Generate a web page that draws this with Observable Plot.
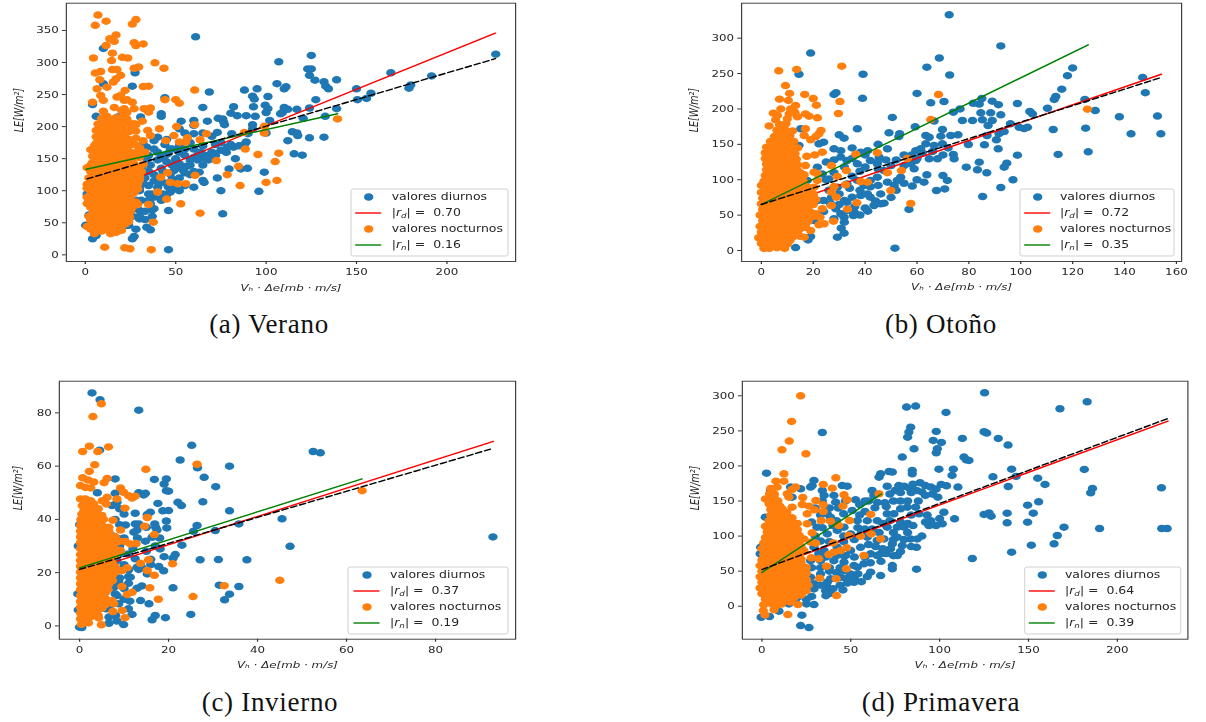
<!DOCTYPE html>
<html lang="es">
<head>
<meta charset="utf-8">
<script src="https://cdn.jsdelivr.net/npm/d3@7"></script>
<script src="https://cdn.jsdelivr.net/npm/@observablehq/plot@0.6"></script>
<style>
html,body{margin:0;padding:0;background:#fff;width:1206px;height:722px;overflow:hidden}
.panel{position:absolute;transform-origin:0 0;transform:scaleX(1.25);filter:blur(.45px)}
.panel svg{display:block;max-width:none;overflow:visible}
.cap{position:absolute;font-family:"Liberation Serif",serif;font-size:27px;letter-spacing:.7px;color:#111;transform:translateX(-50%);white-space:nowrap;line-height:30px}
</style>
</head>
<body>
<script>
const veranoDiurnos = [[61,340],[10,322],[125,311],[227,313],[107,301],[125,290],[123,290],[124,280],[169,284],[191.5,279],[27.5,284],[139,273],[127,272.5],[132,270],[106,267],[26,263],[133,263],[134.5,259],[111,262],[110,259],[95,259],[88,257],[68.6,254],[150,259],[180,265],[179,260],[158,252],[155.5,244],[150.5,242],[44,245],[92.5,247.5],[93.5,243],[101,247],[127.5,242],[65,230],[82,231],[93,231],[99.5,233.5],[101,228],[100,222],[110,230],[109,222],[108,220],[112,227],[117,227],[124,229],[139,228],[80.5,221],[84,217],[94,216],[89,217],[42,220],[42,216],[30.6,215],[53,208.5],[60,209.5],[60,202],[67.5,208.5],[73.5,213],[76,212],[76.5,207],[77,203],[102,209.5],[120.5,213],[132.7,216],[52,196.5],[60,189],[73,191],[81,189],[92.5,203],[92.5,196.5],[90,189],[100,190],[114.5,192],[117,190],[117.5,186],[124,182.5],[132,183.5],[112,178],[89,176],[88,172],[80.5,172],[82,168],[78.5,168],[115.5,157.5],[120,155.5],[83,150],[75,163],[71,157.5],[67.5,155],[65.5,151],[60,152],[62,155],[79.5,134],[86,134],[89.7,135],[73,120],[99,129],[63,129],[65,116],[65.7,113],[60,105.5],[75,100],[96,99],[76,64],[46,69],[46,8],[36,39],[34,43],[27,28.6],[26,25],[4,25],[6,30],[30,56],[30,69],[24,46],[23,46],[37,70],[47,98],[46,105.5],[49,103],[42,87],[38,90],[51,137],[49,131.5],[52,142],[48,165],[45.5,157.5],[42,152],[40,183.5],[34,168],[32,173],[0.2,46],[4,234.5],[6,216],[10,267],[18,215],[1,95],[2,62],[26,60],[28,72],[33,68],[38,72],[31,85],[36,80],[42,85],[45,94],[37,95],[40,105],[44,112],[48,118],[35,108],[33,120],[38,125],[43,130],[47,126],[52,120],[54,132],[56,138],[50,148],[58,148],[62,148],[36,140],[40,148],[45,145],[35,155],[40,160],[52,160],[44,172],[38,178],[55,165],[60,165],[65,170],[70,160],[72,172],[55,108],[52,100],[43,95],[30,100],[35,95],[38,115],[41,112],[55,128],[58,125],[60,130],[65,140],[68,148],[72,155],[78,160],[85,170],[70,150],[58,140],[48,140],[55,155],[45,180],[52,170],[58,175],[47,165],[64,160],[75,175],[70,185],[65,190],[55,190],[50,150],[42,135],[35,130],[32,130],[30,60],[33,55],[35,85],[37,60],[28,40],[28,85],[30,105],[32,112],[32,140],[34,150],[38,165],[44,155]];
const veranoNocturnos = [[7,374],[28,367],[26,360],[5.5,358],[11.5,364.5],[17,343],[13.5,337],[16,333],[11.5,326.5],[27,331],[28,326.5],[32,329],[15,314.5],[4.5,307],[14.5,303],[20.5,308],[23.5,307],[38.5,299.5],[43.5,291],[27,291],[29.5,293],[15,289],[17.5,289],[5.5,283.5],[8.5,286],[19.5,280],[17,274.5],[15.5,269.5],[8,273],[32,262.5],[35,263],[6.5,259],[12,261.5],[8.5,248.5],[22,256.5],[19.5,248.5],[17.5,246],[60.5,257],[4,238],[10,241],[26,238],[23,242],[21.5,241],[50,242],[52,236.5],[44,242],[16,230],[21.5,228],[27,228],[32.5,228],[36,229],[35,222.5],[31.5,208.5],[27,204.5],[23.5,207],[41,196.5],[50.5,200],[60.5,203],[34.5,194],[36,186],[49,186],[44.5,178],[56.5,182.5],[63.5,179.5],[67,189],[52,176],[55.5,176],[88,191],[99,190],[99,200.5],[88.5,165],[95.5,156.5],[107,158.5],[105,145.5],[72.5,147],[84.7,138],[78.5,125],[60.7,124],[45.5,128],[41.7,121],[100,113],[106,116],[85.6,108],[47,113],[51,111],[55.5,111],[40,98],[45,87],[52.8,79.5],[63.5,65],[35,78.5],[29,78.5],[37.6,51],[24.5,59],[10.7,12],[21.8,11],[24.7,9.5],[36.5,8],[139.5,212],[5,33],[9,37],[14,33],[17,35],[20,38],[1,44],[4,46],[7,44],[11,45],[15,46],[19,45],[22,48],[3,54],[6,56],[10,55],[14,54],[18,56],[21,57],[24,52],[4,64],[8,66],[12,65],[16,64],[20,66],[23,68],[3,74],[7,76],[11,74],[15,76],[19,75],[23,77],[26,74],[2,85],[6,84],[10,86],[14,85],[18,84],[22,86],[25,85],[3,94],[7,96],[11,95],[15,94],[19,96],[23,95],[27,97],[1,104],[5,106],[9,104],[13,105],[17,106],[21,104],[25,105],[29,103],[3,114],[7,115],[11,116],[15,114],[19,115],[23,116],[27,114],[30,117],[4,124],[8,126],[12,125],[16,124],[20,126],[24,125],[28,127],[1,136],[5,134],[9,136],[13,135],[17,134],[21,136],[25,135],[29,137],[4,144],[8,146],[12,145],[16,144],[20,146],[24,145],[4,154],[7,156],[11,155],[15,154],[19,156],[23,155],[27,157],[3,164],[7,164],[11,166],[15,165],[19,164],[23,165],[30,167],[6,174],[10,176],[14,175],[18,174],[22,176],[26,175],[6,184],[10,186],[14,185],[18,184],[22,183],[28,182],[6,194],[9,196],[13,195],[17,194],[21,190],[7,204],[11,206],[15,205],[19,204],[24,205],[28,203],[9,213],[12,216],[17,214],[21,216],[10,224],[20,225],[23,222],[3,40],[8,40],[12,40],[16,42],[6,50],[10,50],[14,50],[18,50],[22,53],[2,60],[6,61],[10,60],[14,59],[18,61],[22,62],[5,70],[9,71],[13,70],[17,69],[21,71],[25,68],[1,80],[5,80],[9,81],[13,80],[17,79],[21,81],[25,80],[28,82],[1,90],[5,90],[9,91],[13,90],[17,89],[21,91],[25,90],[3,100],[7,100],[11,100],[15,101],[19,100],[23,100],[27,101],[1,110],[5,110],[9,110],[13,111],[17,110],[21,110],[25,110],[29,111],[2,120],[6,120],[10,120],[14,120],[18,120],[22,120],[26,121],[30,122],[3,130],[7,130],[11,130],[15,130],[19,130],[23,130],[27,131],[31,130],[3,140],[7,140],[11,141],[15,140],[19,140],[23,140],[27,142],[32,141],[6,150],[10,150],[14,150],[18,150],[22,150],[26,150],[30,152],[5,160],[9,160],[13,160],[17,160],[21,160],[25,160],[29,161],[33,160],[5,170],[9,170],[12,170],[16,170],[20,170],[24,170],[28,171],[8,180],[12,180],[16,180],[20,180],[24,180],[32,178],[8,190],[11,190],[15,190],[19,190],[24,192],[28,193],[9,200],[13,200],[17,200],[21,200],[26,198],[11,210],[15,210],[19,210],[23,212]];
const otonoDiurnos = [[72.4,333],[92.3,289],[19,279],[68.6,272],[120,258],[63.8,259],[72.6,248],[14.5,249],[39.2,249],[118,247],[147,244.5],[115.8,228],[148,223],[60,222],[28,220.5],[28.8,223],[113.5,217.6],[112.9,213.4],[39,215],[85,214.8],[81.7,208],[84,207],[70.4,210.5],[65.3,208.7],[89,211],[91.4,206],[98.7,207.7],[124.7,213.4],[76.6,200],[74,195.5],[84.6,194.5],[88.4,194.5],[92.3,191.7],[103.5,196.4],[104.5,193],[110.3,201],[128.7,197.8],[50.5,188],[138,189],[152.7,190],[77.5,183.7],[81.4,183.7],[85.2,184.6],[89,183.7],[66.6,182.8],[59.3,174.8],[37,172],[69.8,171],[87.4,176.6],[96,179],[99.4,174],[102.6,174],[101.3,172.4],[112.5,171],[125,172.9],[142.5,164.9],[154,164.9],[49.2,166.3],[53.3,165],[53,161],[30,163.4],[31.9,158.7],[63.4,162.5],[64.7,160],[69.2,161.6],[73,162.5],[75.8,163.4],[87,162.5],[91.6,165],[93.6,168],[90.6,156.4],[79.8,149.8],[86,149.3],[91.3,143.7],[74,135.7],[74.3,129.5],[98.7,134.7],[114.4,135.7],[126,139.4],[67.9,129.5],[64.7,129.5],[79,117.8],[84,124.8],[83.3,114],[86.9,109.7],[94.6,123.4],[93.6,117.8],[63.8,107],[70,106],[71.7,99],[97,100],[62.7,96.6],[58.2,91],[67.5,84.8],[70.7,87],[92.3,89],[85.3,76.3],[56.9,58],[51.5,3.3],[13.2,4.2],[30.8,31.5],[31.9,24.5],[29.3,18.8],[19,19.8],[18,15],[41,55.6],[35.5,49.5],[31.9,47],[30.6,51.8],[28.7,58.9],[35.7,55],[33.2,56.5],[43.4,63.6],[47.3,66.9],[46,66],[42,75.4],[40.9,80],[38.3,77.7],[35,75.4],[33,68],[32,70.6],[39.6,91.9],[42,99],[44.7,103.6],[48.6,96.6],[52.4,99],[53.7,103.6],[51.2,91.9],[47.3,113],[44.7,122.5],[42,127],[37,122.5],[33,127],[30.6,132],[28,143.7],[30.6,141],[38.3,139],[41,141],[45.4,132],[44.7,124.8],[48.6,143.7],[24,153],[22.2,150.7],[15.2,172],[14.5,148.4],[57.6,122.5],[58.9,115.4],[59.5,127],[61.4,143.7],[59.5,141],[63.4,150.7],[66.6,148.4],[69.8,150.7],[21.6,70.6],[26.7,66],[23.5,108],[26,101],[21.6,117.8],[17.7,99],[29.3,89.5],[33,94],[37,99],[24,70.6],[20.3,42.4],[19,47],[25,100],[28,110],[32,118],[35,105],[38,112],[40,118],[45,115],[50,120],[52,128],[55,120],[48,128],[55,135],[58,135],[60,130],[62,138],[66,140],[70,135],[72,145],[25,125],[28,128],[35,130],[40,135],[35,145],[45,150],[26,85],[30,80],[34,88],[38,85],[42,90],[45,92],[55,95],[60,100],[24,55],[28,45],[32,40],[38,50],[40,60],[36,62],[30,65],[27,75],[46,80],[50,75],[52,85],[44,70]];
const otonoNocturnos = [[6.7,253.9],[13.6,255.8],[31,260.5],[9.3,233],[10.9,222],[16.7,220.5],[20,214.8],[21.2,205.4],[7,213.8],[10.4,212],[30.3,210.5],[13.2,205],[7.5,200],[11.3,200],[29.7,193.6],[4.6,194],[6.2,190.8],[5.5,184.6],[10.7,193],[12.9,195.5],[10,186],[13.9,189],[17,193],[18.4,189.8],[21.6,187.5],[3,176],[17,172],[16.5,162.5],[19,156.4],[22.2,164.9],[23,169.6],[21,161],[65.3,185],[68.3,220.4],[125.7,199.7],[36.4,136],[44.7,138],[23.5,139],[20.6,135],[17.5,133],[27,120],[29.3,104.6],[32.8,113],[56.3,130],[48.6,110],[54,113],[38.3,97.5],[40.9,96.6],[32.5,92.8],[28,90.4],[27,82.4],[28.9,75.4],[49.9,84.8],[36.8,67.4],[57.6,66.4],[27,63.6],[33.2,58.4],[27.8,41.5],[24.2,37.7],[22.2,36.3],[23.5,58.9],[21,51.8],[22.6,47],[19,80],[20.3,89.5],[21.6,99],[20.3,110.7],[21.6,108.3],[19,28.3],[16.5,18.8],[17,33],[1,3],[3,3],[6,4],[9,3],[0,10],[2,9],[4,11],[7,10],[10,9],[-1,18],[1,17],[3,19],[6,18],[9,17],[12,19],[15,20],[0,26],[2,25],[5,27],[8,26],[11,25],[14,27],[-.5,34],[2,33],[5,35],[8,34],[11,33],[14,35],[17,33],[.5,42],[3,41],[6,43],[9,42],[12,41],[15,43],[18,41],[-.5,50],[2,49],[5,51],[8,50],[11,49],[14,51],[17,50],[20,48],[.5,58],[3,57],[6,59],[9,58],[12,57],[15,59],[18,58],[0,66],[2.5,65],[5.5,67],[8.5,66],[11.5,65],[14.5,67],[17.5,66],[20,65],[.5,74],[3,73],[6,75],[9,74],[12,73],[15,75],[18,74],[21,72],[0,82],[3,81],[6,83],[9,82],[12,81],[15,83],[18,82],[20,80],[0,92],[2.5,89],[5.5,91],[8.5,90],[11.5,89],[14.5,91],[17.5,90],[1,98],[4,97],[7,99],[10,98],[13,97],[16,99],[1.5,106],[4.5,105],[7.5,107],[10.5,106],[13.5,105],[16.5,107],[2,114],[5,113],[8,115],[11,114],[14,113],[2,122],[5,121],[8,123],[11,122],[14,121],[17,120],[1.5,130],[4.5,129],[7.5,131],[10.5,130],[13.5,129],[1.5,138],[4.5,137],[7.5,139],[10.5,138],[13,137],[2,146],[5,145],[8,147],[11,146],[14,145],[3.5,154],[6.5,153],[9.5,155],[12.5,154],[5,161],[8,163],[11,162],[6,170],[9,171],[12,169],[7,178],[9.5,179],[1,7],[4,7],[8,7],[2,14],[5,14],[8,14],[11,14],[2,22],[5,22],[8,22],[11,22],[14,23],[3,30],[6,30],[9,30],[12,30],[15,31],[3,38],[6,38],[9,38],[12,38],[15,38],[1,46],[4,46],[7,46],[10,46],[13,46],[16,46],[1,54],[4,54],[7,54],[10,54],[13,54],[16,54],[19,54],[2,62],[5,62],[8,62],[11,62],[14,62],[17,62],[2,70],[5,70],[8,70],[11,70],[14,70],[17,70],[20,70],[2,78],[5,78],[8,78],[11,78],[14,78],[17,78],[20,77],[2,86],[5,86],[8,86],[11,86],[14,86],[17,86],[3,94],[6,94],[9,94],[12,94],[15,94],[3,102],[6,102],[9,102],[12,102],[15,102],[3,110],[6,110],[9,110],[12,110],[15,110],[4,118],[7,118],[10,118],[13,118],[3,126],[6,126],[9,126],[12,126],[3,134],[6,134],[9,134],[12,134],[3,142],[6,142],[9,142],[12,142],[5,150],[8,150],[11,150],[7,158],[10,158],[7,166],[10,165]];
const inviernoDiurnos = [[2.8,87.5],[4.6,84.9],[13.3,81],[25.2,67.8],[4.5,66],[52.5,65.5],[54.1,65],[22.6,62.3],[26.5,59.4],[33.7,60],[28,55.8],[8,55.2],[16.8,55],[19.5,55.2],[19,53.3],[30.6,52.3],[19.5,50.8],[20,50.6],[4,50],[8,49.8],[13.3,50],[14.8,49.8],[14.4,49.2],[27.7,46.6],[17.6,46],[22.1,46.4],[22.9,45.2],[8.4,46.4],[7.3,45.2],[33.7,43.2],[45.5,40.2],[18.7,43.2],[20,43.3],[12.5,42.3],[15.9,42.7],[15.2,41.8],[19.5,39.4],[10.3,37.9],[12.5,38.3],[13.3,38.3],[16.9,38.3],[17.1,37],[17.4,36],[19.6,36.8],[26.4,37.7],[35.8,38.3],[30.5,35.8],[25.6,35.5],[12.2,35.2],[12.9,36],[7.7,33.7],[8.8,32.7],[14.8,31.8],[16.3,33.3],[92.9,33.4],[47.3,29.9],[23,30.3],[18.1,28.9],[21.5,26.8],[21,25.4],[27.1,24.8],[31.2,24.9],[37.6,24.8],[12.5,25.2],[12.9,22],[17.8,22.3],[18.9,20.7],[13.3,21.2],[15.2,19.5],[8.4,24.5],[11.4,18.3],[11,18.5],[8.8,16.4],[7.7,14.5],[12.9,14.1],[21,14.3],[31.4,15.3],[35.8,14.8],[33.7,11.9],[32.6,9.8],[11.3,9.3],[13.7,9.5],[15.6,8.3],[11,6.4],[11.8,4.3],[6,6.4],[8.4,11.4],[8.8,8.3],[25,4.3],[17,3.9],[16.3,2.3],[19.3,3.1],[6.6,3.3],[8.1,3.9],[6.6,1],[8.4,1.8],[9.9,.5],[0,-.5],[.5,-.6],[-.3,6],[-.4,12],[-.3,30],[0,38],[9,27],[10,22],[9,30],[10,33],[11,27],[12,29],[13,33],[15,28],[16,25],[14,22],[17,30],[10,14],[11,16],[9,18],[14,15],[10,10],[15,37],[18,33],[9,38],[10,42],[8,40],[9,44],[10,23],[11,21],[16,23],[19,26],[8,12],[7,8]];
const inviernoNocturnos = [[4.9,83.4],[3,78.6],[2.2,67.5],[.7,65.5],[4.1,65.5],[6.5,67.2],[3.4,60.5],[26.4,60.7],[2.2,58],[14.9,58.8],[.7,55.6],[1.9,54.8],[3.2,54],[6.2,55.4],[5.5,53.8],[.2,52.7],[1.3,52],[2.5,51.8],[9.2,51.8],[9.9,50.2],[11,48.9],[12.5,48.7],[11.8,48],[63.5,50.8],[8.4,47.7],[6.2,48.3],[5.1,47],[6,45.8],[.2,47.7],[1.3,47.7],[2.5,47],[.6,45.2],[1.7,45.2],[3.2,45.8],[10.2,44.2],[15.2,40.7],[7.5,39.7],[14.6,37.4],[16.8,34.3],[9.2,36],[9,31.8],[10.3,31.7],[11.4,30.8],[12.7,30.9],[9.2,28.3],[13.7,23.5],[15.5,24.8],[20.9,23.3],[15.2,20.8],[16.8,19],[8.1,20.2],[9.6,20.8],[10.7,21.8],[9.5,14.8],[15.8,14.3],[11.8,12.6],[10.7,11.8],[17.7,10],[25.5,11],[32.5,15.1],[45,17.1],[7.3,9.5],[7.7,8.3],[7.5,5.4],[9.6,5.8],[10.2,3.1],[4.3,3],[4.9,.4],[2,1.1],[.5,42],[2,43],[3.5,42.5],[5,41.5],[.3,40],[2,40.5],[3.6,39.8],[5.4,40],[.2,37.8],[1.8,38],[3.4,37.5],[5,37.8],[6.6,37],[.2,35.6],[1.8,35.4],[3.4,35.7],[5,35.2],[6.6,35.5],[.2,33.4],[1.8,33.2],[3.4,33.5],[5,33],[6.6,33.3],[8,33.5],[.2,31.2],[1.8,31],[3.4,31.3],[5,30.8],[6.6,31.2],[8,31],[.2,29],[1.8,28.8],[3.4,29.1],[5,28.6],[6.6,29],[8,28.7],[.2,26.8],[1.8,26.6],[3.4,26.9],[5,26.4],[6.6,26.8],[8,26.5],[.2,24.6],[1.8,24.4],[3.4,24.7],[5,24.2],[6.6,24.6],[.2,22.4],[1.8,22.2],[3.4,22.5],[5,22],[6.6,22.4],[8,22.2],[.2,20.2],[1.8,20],[3.4,20.3],[5,19.8],[6.6,20.2],[.2,18],[1.8,17.8],[3.4,18.1],[5,17.6],[6.6,18],[.2,15.8],[1.8,15.6],[3.4,15.9],[5,15.4],[6.6,15.8],[.2,13.6],[1.8,13.4],[3.4,13.7],[5,13.2],[6.4,13.6],[.2,11.4],[1.8,11.2],[3.4,11.5],[5,11],[.2,9.2],[1.8,9],[3.4,9.3],[5,8.8],[.2,7],[1.8,6.8],[3.4,7.1],[5,6.6],[.2,4.8],[1.8,4.6],[3.4,4.9],[.2,2.6],[1.8,2.4],[.4,.6],[1,3.7],[2.6,3.5],[4.2,3.8],[1,5.9],[2.6,5.7],[4.2,6],[1,8.1],[2.6,7.9],[4.2,8.2],[5.8,8],[1,10.3],[2.6,10.1],[4.2,10.4],[5.8,10.2],[1,12.5],[2.6,12.3],[4.2,12.6],[5.8,12.4],[1,14.7],[2.6,14.5],[4.2,14.8],[5.8,14.6],[1,16.9],[2.6,16.7],[4.2,17],[5.8,16.8],[7.4,17],[1,19.1],[2.6,18.9],[4.2,19.2],[5.8,19],[7.4,19.1],[1,21.3],[2.6,21.1],[4.2,21.4],[5.8,21.2],[7.4,21.3],[1,23.5],[2.6,23.3],[4.2,23.6],[5.8,23.4],[7.4,23.5],[1,25.7],[2.6,25.5],[4.2,25.8],[5.8,25.6],[7.4,25.7],[1,27.9],[2.6,27.7],[4.2,28],[5.8,27.8],[7.4,27.9],[1,30.1],[2.6,29.9],[4.2,30.2],[5.8,30],[7.4,30],[1,32.3],[2.6,32.1],[4.2,32.4],[5.8,32.2],[7.4,32.2],[1,34.5],[2.6,34.3],[4.2,34.6],[5.8,34.4],[1,36.7],[2.6,36.5],[4.2,36.8],[5.8,36.6],[1,38.9],[2.6,38.7],[4.2,39],[1,41],[2.6,41.2],[4.2,41],[1,43.5],[2.6,44],[4.2,44]];
const primaveraDiurnos = [[125.3,304.3],[183,291.5],[167.7,281.5],[81.4,283.9],[86.5,285.3],[103.6,276.3],[83.7,255.3],[82.7,248.2],[82,241],[34,247.7],[98.1,249.2],[125,248.7],[126.5,246.8],[112.8,239.2],[133,239.2],[96.4,236.3],[101,233.5],[138.5,229.7],[85.6,224.4],[98.7,224.4],[98.1,218.7],[79,212.6],[113.7,212.6],[115,208.8],[116.5,207.8],[99.6,195.4],[107.7,195.4],[107,186.4],[140.5,195.4],[181.4,195],[2.6,189.7],[84.6,193.5],[84.6,188.8],[71.5,192],[73.4,191.2],[66.8,188.8],[65.9,184],[130,184.5],[143,185],[155.2,182.6],[29.3,179.3],[159.3,173.6],[138.6,170.7],[186,167.9],[185,161.7],[224.8,168.8],[110.3,169.8],[100.9,173.6],[103.9,171.7],[70.5,171],[75,165],[77,172],[80,171],[83,168],[78,162],[72,160],[85,174],[89,176],[92,172],[87,165],[90,163],[95,170],[98,167],[96,160],[84,162],[99,155.5],[69.2,147.4],[155.7,148.8],[149.5,144],[152.7,132.7],[102.4,134],[108.4,124.6],[125,130.8],[127.8,133],[129,128.4],[138,132.7],[138,118.9],[149.5,119.8],[170,112.7],[190,110.8],[225,110.8],[228,110.8],[166.2,100.8],[164.4,88.9],[151.6,87],[140.5,77],[118.4,68],[87,52.8],[66.8,43.7],[94,115],[101.5,117.5],[95,122],[88.4,131.7],[86.5,141.2],[81.8,141.2],[78,138.8],[87.4,96],[87,84],[83.7,96],[79,86.5],[73.4,88.9],[68.7,96],[72.4,81.8],[76.2,98.4],[76.2,72.3],[66.8,74.7],[73.4,58],[73.4,53.3],[61.2,48.5],[59.3,42.3],[51.8,34.2],[49.9,36.6],[57.4,60.4],[53.7,55.6],[46.2,50.9],[45.6,23.3],[36.8,27],[35.8,22.3],[38.6,18.5],[29.3,24.7],[24.6,24.7],[29.3,2.4],[25.1,3.3],[19,10.5],[19.9,12.8],[15.2,3.3],[10.5,8],[12.4,12.8],[9.6,-7],[22.5,-12.8],[21.8,-27.6],[26.5,-30.4],[-.4,-15.7],[4.3,-14.7],[34,165],[35,158],[45.2,172],[48,171.2],[52.7,151.7],[63,157.9],[63.6,140.3],[41.5,148.4],[40.5,158],[50.8,136.5],[46,131.7],[36.8,131.7],[38.6,127],[46.2,112.7],[53.7,122],[59.3,122],[64.9,122],[70.5,131.7],[74.3,131.7],[31,112.7],[36.8,103],[42.4,108],[50,103],[59.3,98.4],[64.9,93.7],[70.5,112.7],[76.2,112.7],[80,112.7],[29.3,84],[34.9,79.4],[42.4,84],[49.9,79.4],[55.5,84],[61.2,74.7],[64.9,72.3],[27.4,65],[33,65],[40.5,65],[46.2,62.8],[51.8,58],[27.4,41.4],[33,46.1],[38.6,39],[44.3,41.4],[49.9,46.1],[29.3,31.9],[36.8,34.2],[4.9,165],[17,155.5],[16.1,169.8],[21.8,167.4],[1.9,127],[3,84],[-1,74.7],[-.7,84],[27.4,169.8],[28.3,172],[46,92],[54,112],[58,110],[38,92],[33,93],[47,72],[38,55],[44,55],[30,140],[34,150],[38,140],[43,140],[47,150],[55,145],[58,135],[60,150],[55,130],[42,122],[33,130],[28,120],[30,100],[34,112],[40,115],[46,100],[52,95],[56,105],[62,110],[66,105],[68,118],[72,122],[74,105],[78,120],[82,118],[84,130],[64,85],[60,88],[70,75],[68,82],[74,95],[80,95],[58,70],[52,70],[46,72],[42,72],[36,70],[32,75],[28,55],[33,55],[38,50],[42,48],[47,40],[52,40],[56,35],[44,30],[40,25],[33,30],[28,14],[25,10],[22,18],[36,15],[48,33],[54,46],[61,62],[67,64],[74,72],[78,78],[84,85],[70,142],[74,150],[78,150],[82,150],[65,148],[62,165],[58,150],[92,158],[88,150],[93,130],[92,120],[98,115],[100,125],[85,115],[82,105],[90,100]];
const primaveraNocturnos = [[21.8,300],[16.7,263.4],[15.4,235.4],[11.3,223],[24.8,217.3],[12.4,188.8],[7.9,178.3],[12.4,178.3],[41.6,183],[8.6,169.8],[34.5,173.6],[39.6,168.3],[19,169.8],[17,166.4],[14.3,160.2],[15.2,155.5],[4.3,160.2],[2,153],[6.8,155.5],[23,155],[30.4,150.7],[46.2,158.8],[48,151.7],[65.9,160.2],[34.5,144.6],[45.6,142.7],[22.7,145],[26.5,142.7],[17,141.2],[11.4,138.8],[34.5,135],[61.2,130.8],[29.6,137.4],[25.5,131.7],[49.3,122.2],[33.4,122.2],[38.6,121.3],[43.3,115],[25.5,117.5],[28.3,104.6],[49,100.8],[55.5,99.9],[61.5,103],[66.8,96],[23.6,96],[27.4,91.3],[30.2,89.9],[40.2,90.3],[47.7,83.2],[44.3,79.4],[40.5,77],[37.7,73.7],[57.4,72.3],[23.6,79.4],[27.8,69],[32,67.5],[36.4,57],[47.5,53.3],[22.7,36.6],[32.5,40],[41.8,39],[42,15.2],[20.3,2.4],[14.6,-11.9],[1.7,-12.4],[.8,-6.2],[6.8,-5.2],[8.3,1],[1,2],[5,4],[11,3],[2,10],[6,9],[10,11],[14,10],[18,12],[0,18],[4,17],[8,19],[12,18],[16,17],[20,19],[-1,26],[3,25],[7,27],[11,26],[15,25],[19,27],[23,26],[0,34],[4,33],[8,35],[12,34],[16,33],[20,35],[24,33],[-1,42],[3,41],[7,43],[11,42],[15,41],[19,43],[23,42],[25,47],[0,50],[4,49],[8,51],[12,50],[16,49],[20,51],[24,50],[-1,58],[3,57],[7,59],[11,58],[15,57],[19,59],[23,57],[0,66],[4,65],[8,67],[12,66],[16,65],[20,67],[1,74],[5,73],[9,75],[13,74],[17,73],[21,72],[0,82],[4,81],[8,83],[12,82],[16,81],[20,80],[1,90],[5,89],[9,91],[13,90],[17,89],[21,91],[2,98],[6,97],[10,99],[14,98],[18,97],[3,106],[7,105],[11,107],[15,106],[19,105],[2,114],[6,113],[10,115],[14,114],[18,113],[4,122],[8,121],[12,123],[16,122],[20,118],[5,130],[9,129],[13,131],[17,126],[5,138],[8,137],[4,146],[8,145],[6,152],[3,6],[7,5],[12,7],[16,6],[2,14],[6,14],[10,15],[14,14],[18,15],[22,16],[2,22],[5,22],[9,23],[13,22],[17,21],[21,23],[25,22],[2,30],[6,30],[10,31],[14,30],[18,29],[22,31],[26,30],[1,38],[5,38],[9,39],[13,38],[17,37],[21,39],[25,38],[2,46],[6,46],[10,47],[14,46],[18,45],[22,46],[2,54],[6,54],[10,55],[14,54],[18,53],[22,54],[25,55],[2,62],[6,62],[10,63],[14,62],[18,61],[22,62],[3,70],[7,70],[11,71],[15,70],[19,69],[22,67],[3,78],[7,78],[11,79],[15,78],[19,77],[3,86],[7,86],[11,87],[15,86],[19,85],[22,85],[4,94],[8,94],[12,95],[16,94],[20,93],[5,102],[9,102],[13,103],[17,102],[21,101],[4,110],[8,110],[12,111],[16,110],[20,109],[6,118],[10,118],[14,119],[18,118],[7,126],[11,126],[15,127],[6,134],[10,135],[14,134],[6,142],[10,143],[5,150],[9,150],[7,160],[5,168]];

const ticksA = {x:[0,50,100,150,200], y:[0,50,100,150,200,250,300,350]};
const ticksB = {x:[0,20,40,60,80,100,120,140,160], y:[0,50,100,150,200,250,300]};
const ticksC = {x:[0,20,40,60,80], y:[0,20,40,60,80]};
const ticksD = {x:[0,50,100,150,200], y:[0,50,100,150,200,250,300]};

const rojoA = [[0.5,88],[226.8,345.8]], verdeA = [[0.5,133.5],[139.5,220]], negroA = [[1,118.5],[226.8,306]];
const rojoB = [[0,54.7],[154.2,249]], verdeB = [[0,65],[126,290.6]], negroB = [[0,65],[154.2,244.5]];
const rojoC = [[0,19.8],[93,69.3]], verdeC = [[0,21.8],[63.5,55.2]], negroC = [[0,21.2],[92.8,66.6]];
const rojoD = [[0,51.5],[228.5,263.9]], verdeD = [[0,48],[67.2,160]], negroD = [[0,52.3],[228,267.2]];

const xLabel = "Vₕ · Δe[mb · m/s]";
const yLabel = "LE[W/m²]";
const azul = "#1f77b4", naranja = "#ff7f0e";
const S = 1.25, R = 3.75;

function panel(cfg){
  const {left, top, pxW, frameL, frameR, xDomain, yDomain, ticks, diurnos, nocturnos, rojo, verde, negro, rd, rn, legend} = cfg;
  const height = 300;
  const mb = height - cfg.frameB;
  const svg = Plot.plot({
    width: pxW/S, height,
    marginLeft: frameL/S, marginRight: (pxW-frameR)/S, marginTop: cfg.frameT, marginBottom: mb,
    style: {fontFamily: "'DejaVu Sans',sans-serif", fontSize: "9.5px", color: "#262626", background: "transparent"},
    x: {domain: xDomain}, y: {domain: yDomain},
    marks: [
      Plot.dot(diurnos, {x: d=>d[0], y: d=>d[1], r: R, fill: azul}),
      Plot.line(rojo, {x: d=>d[0], y: d=>d[1], stroke: "red", strokeWidth: 1.4}),
      Plot.dot(nocturnos, {x: d=>d[0], y: d=>d[1], r: R, fill: naranja}),
      Plot.line(verde, {x: d=>d[0], y: d=>d[1], stroke: "green", strokeWidth: 1.4}),
      Plot.line(negro, {x: d=>d[0], y: d=>d[1], stroke: "black", strokeWidth: 1.4, strokeDasharray: "5,2.5"}),
      Plot.frame({stroke: "#333", strokeWidth: 0.9}),
      Plot.axisX({ticks: ticks.x, label: null, tickSize: 3, tickPadding: 4, tickFormat: d=>String(d), stroke: "#333"}),
      Plot.axisY({ticks: ticks.y, label: null, tickSize: 3, tickPadding: 3, tickFormat: d=>String(d), stroke: "#333"}),
      Plot.text([xLabel], {frameAnchor: "bottom", dy: 29, fontStyle: "italic", fontSize: 9.5, fill: "#262626"}),
      Plot.text([yLabel], {frameAnchor: "left", dx: -cfg.yLabelOff, rotate: -90, fontStyle: "italic", fontSize: 9.5, fill: "#262626"})
    ]
  });
  const host = document.createElement("div");
  host.className = "panel";
  host.style.left = left + "px";
  host.style.top = top + "px";
  host.appendChild(svg);
  document.body.appendChild(host);

  // Legend inside the plot frame, in SVG units
  const ux = px => (px - left)/S;
  const uy = py => py - top;
  const g = d3.select(svg).append("g").attr("font-family","'DejaVu Sans',sans-serif").attr("font-size",10).attr("fill","#262626").attr("text-anchor","start");
  g.append("rect").attr("x",ux(legend.x0)).attr("y",uy(legend.y0)).attr("width",(legend.x1-legend.x0)/S).attr("height",legend.y1-legend.y0)
    .attr("rx",2).attr("fill","#fff").attr("fill-opacity",.85).attr("stroke","#ccc").attr("stroke-width",.8);
  const rows = [["dot",azul,"valores diurnos"],["line","red","d",rd],["dot",naranja,"valores nocturnos"],["line","green","n",rn]];
  rows.forEach((r,i)=>{
    const y = uy(legend.y0 + 8 + i*16);
    if(r[0]==="dot"){
      g.append("circle").attr("cx",ux(legend.dot)).attr("cy",y).attr("r",R).attr("fill",r[1]);
      g.append("text").attr("x",ux(legend.text)).attr("y",y).attr("dy","0.35em").text(r[2]);
    } else {
      g.append("line").attr("x1",ux(legend.dot-13.5)).attr("x2",ux(legend.dot+12.5)).attr("y1",y).attr("y2",y).attr("stroke",r[1]).attr("stroke-width",1.4);
      const t = g.append("text").attr("x",ux(legend.text)).attr("y",y).attr("dy","0.35em").style("white-space","pre");
      t.append("tspan").text("|");
      t.append("tspan").attr("font-style","italic").text("r");
      t.append("tspan").attr("font-style","italic").attr("font-size",7).attr("dy",2).text(r[2]);
      t.append("tspan").attr("dy",-2).text("| =  "+r[3]);
    }
  });
}

panel({left:0, top:0, pxW:530, frameL:65.7, frameR:515, frameT:2.7, frameB:261, yLabelOff:38,
  xDomain:[-10.5,238], yDomain:[-10.4,392.5], ticks:ticksA, diurnos:veranoDiurnos, nocturnos:veranoNocturnos,
  rojo:rojoA, verde:verdeA, negro:negroA, rd:"0.70", rn:"0.16",
  legend:{x0:351,x1:508,y0:189,y1:256,dot:368.7,text:391.7}});
panel({left:670, top:0, pxW:536, frameL:71, frameR:511, frameT:2.7, frameB:261, yLabelOff:38,
  xDomain:[-7.6,162], yDomain:[-15.5,349.4], ticks:ticksB, diurnos:otonoDiurnos, nocturnos:otonoNocturnos,
  rojo:rojoB, verde:verdeB, negro:negroB, rd:"0.72", rn:"0.35",
  legend:{x0:1020,x1:1174,y0:189,y1:256,dot:1037.7,text:1060}});
panel({left:0, top:378, pxW:530, frameL:58.7, frameR:515, frameT:2.7, frameB:260.7, yLabelOff:33,
  xDomain:[-4.55,98], yDomain:[-5,91.9], ticks:ticksC, diurnos:inviernoDiurnos, nocturnos:inviernoNocturnos,
  rojo:rojoC, verde:verdeC, negro:negroC, rd:"0.37", rn:"0.19",
  legend:{x0:348,x1:508,y0:567,y1:634,dot:367,text:390}});
panel({left:670, top:378, pxW:536, frameL:71.7, frameR:517.3, frameT:2.7, frameB:260.7, yLabelOff:38,
  xDomain:[-11,239.7], yDomain:[-47,320.8], ticks:ticksD, diurnos:primaveraDiurnos, nocturnos:primaveraNocturnos,
  rojo:rojoD, verde:verdeD, negro:negroD, rd:"0.64", rn:"0.39",
  legend:{x0:1024.7,x1:1180.7,y0:567,y1:634,dot:1042.3,text:1065}});

const captions = [["(a) Verano",269,309],["(b) Otoño",941,309],["(c) Invierno",270,687],["(d) Primavera",941,687]];
captions.forEach(([t,x,y])=>{
  const d = document.createElement("div");
  d.className = "cap";
  d.textContent = t;
  d.style.left = x + "px";
  d.style.top = y + "px";
  document.body.appendChild(d);
});
</script>
</body>
</html>
